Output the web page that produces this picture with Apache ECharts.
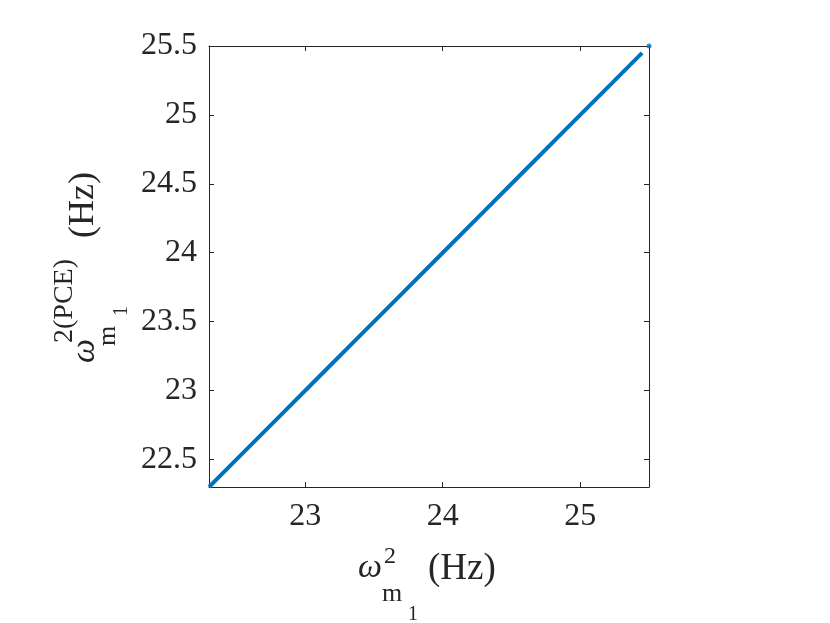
<!DOCTYPE html>
<html>
<head>
<meta charset="utf-8">
<script src="https://cdn.jsdelivr.net/npm/echarts@6/dist/echarts.min.js"></script>
<style>
  html, body { margin: 0; padding: 0; background: #fff; }
  #chart { width: 830px; height: 623px; }
</style>
</head>
<body>
<div id="chart"></div>
<script>
// samples read along the diagonal (true vs PCE)
const trueVals = [22.30, 22.50, 22.80, 23.10, 23.40, 23.70, 24.00, 24.30, 24.60, 24.90, 25.20, 25.45]
const pceVals = [22.30, 22.50, 22.80, 23.10, 23.40, 23.70, 24.00, 24.30, 24.60, 24.90, 25.20, 25.45]
const outlier = [[25.50, 25.50]]

const axisMin = 22.3
const axisMax = 25.5
const xTicks = [23, 24, 25]
const yTicks = [22.5, 23, 23.5, 24, 24.5, 25, 25.5]

const ink = '#262626'
const serif = 'Liberation Serif'

function axisBase(ticks, pos, showLabel) {
  return {
    type: 'value',
    position: pos,
    min: axisMin,
    max: axisMax,
    splitLine: { show: false },
    axisLine: { show: true, onZero: false, lineStyle: { color: ink, width: 1 } },
    axisTick: { show: true, inside: true, length: 5, customValues: ticks, lineStyle: { color: ink } },
    axisLabel: {
      show: showLabel,
      customValues: ticks,
      margin: pos === 'bottom' ? 14 : 12,
      color: ink,
      fontSize: 32,
      fontFamily: serif
    }
  }
}

function txt(str, x, y, size, style, rot) {
  return {
    type: 'text',
    x: x,
    y: y,
    rotation: rot || 0,
    style: {
      text: str,
      fill: ink,
      font: (style || '') + ' ' + size + 'px "' + serif + '"',
      align: 'left',
      verticalAlign: 'middle'
    }
  }
}

const R = Math.PI / 2

const option = {
  animation: false,
  grid: { left: 209, right: 181, top: 46, bottom: 136 },
  xAxis: [axisBase(xTicks, 'bottom', true), axisBase(xTicks, 'top', false)],
  yAxis: [axisBase(yTicks, 'left', true), axisBase(yTicks, 'right', false)],
  series: [
    {
      type: 'line',
      data: trueVals.map((v, i) => [v, pceVals[i]]),
      showSymbol: false,
      lineStyle: { color: '#0072BD', width: 4 }
    },
    {
      type: 'scatter',
      data: outlier,
      symbolSize: 5,
      itemStyle: { color: '#0072BD' }
    }
  ],
  graphic: [
    // x label: omega^2_{m_1} (Hz)
    txt('ω', 358, 568, 34, 'italic'),
    txt('2', 384, 557, 24),
    txt('m', 382, 594, 26),
    txt('1', 408, 615, 20),
    txt('(Hz)', 428, 569, 37),
    // y label: omega^{2(PCE)}_{m_1} (Hz), rotated
    txt('ω', 85, 363, 34, 'italic', R),
    txt('2(PCE)', 65, 343, 28, '', R),
    txt('m', 108, 346, 26, '', R),
    txt('1', 122, 316, 20, '', R),
    txt('(Hz)', 84, 238, 36, '', R)
  ]
}

const chart = echarts.init(document.getElementById('chart'))
chart.setOption(option)
</script>
</body>
</html>
